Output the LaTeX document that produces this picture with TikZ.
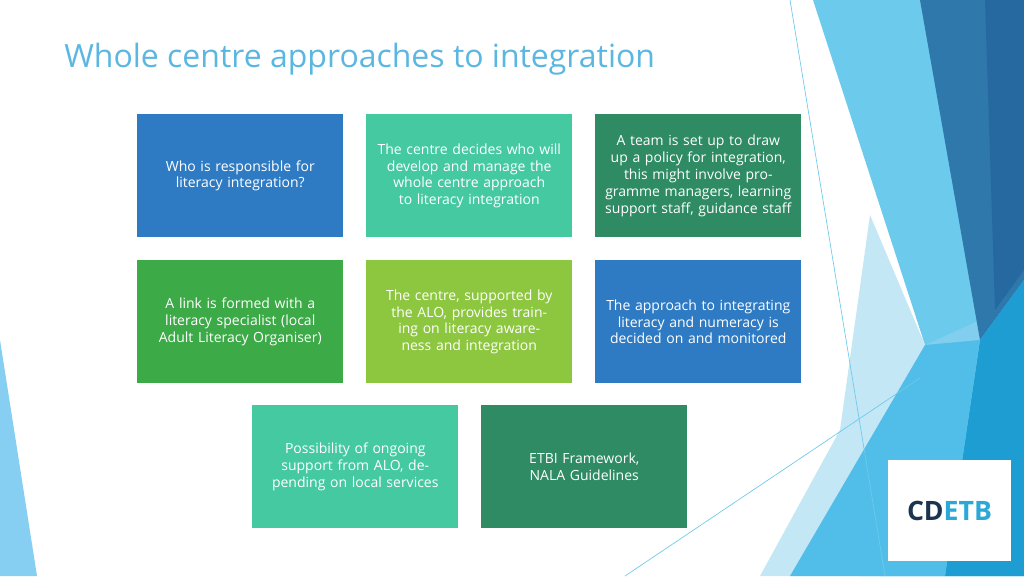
\documentclass[tikz,border=0pt]{standalone}
\usepackage{fontspec}
\setmainfont{Open Sans}
\definecolor{ttl}{HTML}{5BB7E2}
\definecolor{cblue}{HTML}{2E7BC4}
\definecolor{cteal}{HTML}{45C9A0}
\definecolor{cgreen}{HTML}{2E8B63}
\definecolor{cgrn}{HTML}{3BAA47}
\definecolor{clime}{HTML}{8DC63F}
\begin{document}
\begin{tikzpicture}[x=0.75pt,y=-0.75pt,
  card/.style={minimum width=154.5pt,minimum height=92.25pt,inner sep=2pt,text width=150pt,align=center,text=white,font=\fontsize{10.5}{12.6}\selectfont,anchor=north west}]
\useasboundingbox (0,0) rectangle (1024,576);
\fill[white] (0,0) rectangle (1024,576);
% left wedge
\fill[cyan!45!white!95!blue] (0,340) -- (37,576) -- (0,576) -- cycle;
% right decoration
\fill[color={rgb,255:red,108;green,202;blue,236}] (813,0) -- (1024,0) -- (1024,576) -- (860,576) -- (925,345) -- cycle;
\fill[color={rgb,255:red,196;green,231;blue,246}] (870,215) -- (925,345) -- (860,576) -- (760,576) -- (840,430) -- cycle;
\fill[color={rgb,255:red,130;green,206;blue,238}] (925,345) -- (1024,300) -- (1024,576) -- (880,576) -- cycle;
\fill[color={rgb,255:red,46;green,120;blue,172}] (920,0) -- (1024,0) -- (1024,280) -- (980,340) -- cycle;
\fill[color={rgb,255:red,38;green,105;blue,160}] (985,0) -- (1024,0) -- (1024,270) -- (995,310) -- cycle;
\fill[color={rgb,255:red,30;green,157;blue,211}] (980,340) -- (1024,280) -- (1024,576) -- (945,576) -- cycle;
\fill[color={rgb,255:red,80;green,190;blue,232}] (925,345) -- (980,340) -- (945,576) -- (790,576) -- cycle;
\draw[color={rgb,255:red,108;green,202;blue,236},line width=0.5pt] (790,0) -- (885,576);
\draw[color={rgb,255:red,108;green,202;blue,236},line width=0.5pt] (625,576) -- (920,378);
% title
\node[anchor=base west,text=ttl,font=\fontsize{24}{28}\selectfont,inner sep=0] (title) at (64,67) {Whole centre approaches to integration};
% cards
\node[card,fill=cblue] (c1) at (137,114) {Who is responsible for literacy integration?};
\node[card,fill=cteal] (c2) at (366,114) {The centre decides who will develop and manage the whole centre approach to literacy integration};
\node[card,fill=cgreen] (c3) at (595,114) {A team is set up to draw up a policy for integration, this might involve programme managers, learning support staff, guidance staff};
\node[card,fill=cgrn] (c4) at (137,260) {A link is formed with a literacy specialist (local Adult Literacy Organiser)};
\node[card,fill=clime] (c5) at (366,260) {The centre, supported by the ALO, provides training on literacy awareness and integration};
\node[card,fill=cblue] (c6) at (595,260) {The approach to integrating literacy and numeracy is decided on and monitored};
\node[card,fill=cteal] (c7) at (252,405) {Possibility of ongoing support from ALO, depending on local services};
\node[card,fill=cgreen] (c8) at (481,405) {ETBI Framework, NALA Guidelines};
% logo
\fill[white] (888,460) rectangle (1011,561);
\node[font=\fontsize{20}{20}\selectfont\bfseries,inner sep=0] (logo) at (949.5,511) {\textcolor[HTML]{1B3550}{CD}\textcolor[HTML]{2AA8D8}{ETB}};
\end{tikzpicture}
\end{document}
